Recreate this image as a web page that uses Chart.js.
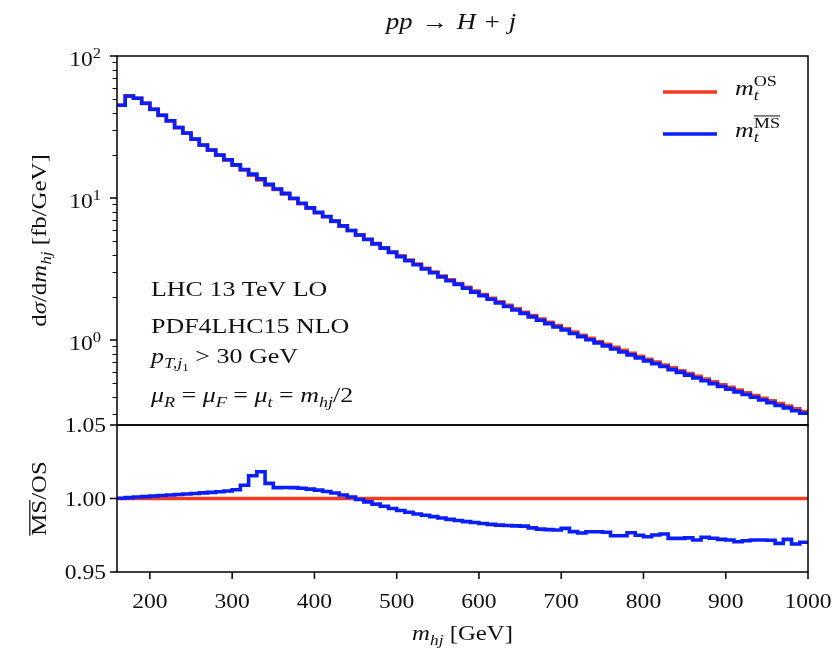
<!DOCTYPE html>
<html>
<head>
<meta charset="utf-8">
<title>pp → H + j</title>
<script src="https://cdn.jsdelivr.net/npm/chart.js@4.4.1/dist/chart.umd.min.js"></script>
<style>
  html, body { margin: 0; padding: 0; background: #fff; }
  canvas { display: block; }
</style>
</head>
<body>
<canvas id="mhj" width="837" height="653"></canvas>
<script>
// ── data (10 GeV bins from 160 to 1000 GeV) ──
const binEdges = [
    160, 170, 180, 190, 200, 210, 220, 230, 240, 250, 260, 270, 280, 290, 300, 310, 320,
    330, 340, 350, 360, 370, 380, 390, 400, 410, 420, 430, 440, 450, 460, 470, 480, 490,
    500, 510, 520, 530, 540, 550, 560, 570, 580, 590, 600, 610, 620, 630, 640, 650, 660,
    670, 680, 690, 700, 710, 720, 730, 740, 750, 760, 770, 780, 790, 800, 810, 820, 830,
    840, 850, 860, 870, 880, 890, 900, 910, 920, 930, 940, 950, 960, 970, 980, 990, 1000
];

// dσ/dm_hj [fb/GeV] with on-shell top mass
const osValues = [
    45.0, 52.3, 50.4, 46.4, 42.1, 38.2, 34.9, 31.3, 28.6, 25.9,
    23.5, 21.7, 20.0, 18.5, 17.0, 15.75, 14.5, 13.4, 12.35, 11.5,
    10.7, 9.89, 9.12, 8.46, 7.88, 7.38, 6.85, 6.35, 5.90, 5.49,
    5.12, 4.77, 4.46, 4.17, 3.90, 3.65, 3.42, 3.20, 3.01, 2.82,
    2.65, 2.50, 2.35, 2.21, 2.09, 1.97, 1.86, 1.755, 1.658, 1.570,
    1.485, 1.406, 1.332, 1.263, 1.199, 1.138, 1.081, 1.028, 0.977, 0.931,
    0.887, 0.845, 0.805, 0.768, 0.732, 0.699, 0.667, 0.636, 0.608, 0.581,
    0.555, 0.530, 0.507, 0.484, 0.464, 0.444, 0.425, 0.407, 0.389, 0.373,
    0.357, 0.342, 0.328, 0.314
];

// MSbar / OS ratio per bin (lower panel)
const ratioMS = [
    1.0002, 1.0006, 1.0010, 1.0013, 1.0017, 1.0020, 1.0024, 1.0027, 1.0031, 1.0034,
    1.0038, 1.0042, 1.0046, 1.0051, 1.0060, 1.0090, 1.0155, 1.0182, 1.0103, 1.0074,
    1.0075, 1.0074, 1.0070, 1.0064, 1.0057, 1.0048, 1.0037, 1.0024, 1.0010, 0.9993,
    0.9977, 0.9962, 0.9947, 0.9932, 0.9918, 0.9906, 0.9895, 0.9886, 0.9877, 0.9867,
    0.9858, 0.9850, 0.9843, 0.9837, 0.9830, 0.9824, 0.9819, 0.9816, 0.9814, 0.9812,
    0.9800, 0.9792, 0.9788, 0.9786, 0.9797, 0.9775, 0.9765, 0.9774, 0.9774, 0.9770,
    0.9747, 0.9747, 0.9767, 0.9750, 0.9740, 0.9752, 0.9758, 0.9729, 0.9729, 0.9732,
    0.9718, 0.9736, 0.9730, 0.9722, 0.9718, 0.9706, 0.9713, 0.9718, 0.9718, 0.9716,
    0.9695, 0.9722, 0.9690, 0.9702
];
const ratioOS = [1, 1];

// axis ranges and ticks
const xRange = [160, 1000];
const xTicks = [200, 300, 400, 500, 600, 700, 800, 900, 1000];
const logRange = [0.252, 100];
const logMajor = [1, 10, 100];
const logMajorExp = ['0', '1', '2'];
const logMinor = [0.3, 0.4, 0.5, 0.6, 0.7, 0.8, 0.9, 2, 3, 4, 5, 6, 7, 8, 9, 20, 30, 40, 50, 60, 70, 80, 90];
const ratioRange = [0.95, 1.05];
const ratioTicks = [0.95, 1.00, 1.05];
const ratioTickLabels = ['0.95', '1.00', '1.05'];

const RED = '#f03c24';
const BLUE = '#0a1efa';
const SERIF = '"Liberation Serif", "DejaVu Serif", serif';
const SX = 1.18; // widen Times-like glyphs towards Computer Modern proportions
const LW = 3.6;

// ── histogram helpers ──
function stepPoints(vals) {
    const pts = vals.map((v, i) => ({ x: binEdges[i], y: v }));
    pts.push({ x: binEdges[vals.length], y: vals[vals.length - 1] });
    return pts;
}
const msValues = osValues.map((v, i) => v * ratioMS[i]);

// ── tiny math-text renderer ──
const R = (t, o = {}) => ({ t, it: false, ...o });
const I = (t, o = {}) => ({ t, it: true, ...o });
const SUB = { sc: 0.7, dy: 0.22 };
const SUP = { sc: 0.7, dy: -0.42 };

function fontFor(p, size) {
    return (p.it ? 'italic ' : '') + (size * (p.sc || 1)).toFixed(1) + 'px ' + SERIF;
}
function mathWidth(ctx, parts, size) {
    let w = 0, pending = 0;
    for (const p of parts) {
        ctx.font = fontFor(p, size);
        const pw = ctx.measureText(p.t).width * SX;
        if (p.stay) pending = pw; else { w += Math.max(pw, pending); pending = 0; }
    }
    return w;
}
function drawMath(ctx, parts, x, y, size, align = 'left') {
    const w = mathWidth(ctx, parts, size);
    let cx = align === 'center' ? x - w / 2 : align === 'right' ? x - w : x;
    let pending = 0;
    ctx.textAlign = 'left';
    ctx.textBaseline = 'alphabetic';
    for (const p of parts) {
        ctx.font = fontFor(p, size);
        const pw = ctx.measureText(p.t).width * SX;
        const py = y + (p.dy || 0) * size;
        ctx.save();
        ctx.translate(cx, py);
        ctx.scale(SX, 1);
        ctx.fillText(p.t, 0, 0);
        ctx.restore();
        if (p.ol) {
            const s = size * (p.sc || 1);
            ctx.fillRect(cx, py - s * 0.8, pw, Math.max(1, s * 0.06));
        }
        if (p.stay) pending = pw; else { cx += Math.max(pw, pending); pending = 0; }
    }
}
function drawMathUp(ctx, parts, x, y, size) {
    ctx.save();
    ctx.translate(x, y);
    ctx.rotate(-Math.PI / 2);
    drawMath(ctx, parts, 0, 0, size, 'center');
    ctx.restore();
}

// ── frames, ticks, labels and annotations ──
const paperPlugin = {
    id: 'paperAxes',
    afterDraw(chart) {
        const { ctx, chartArea: a, scales: { x, y, y2 } } = chart;
        ctx.save();
        ctx.strokeStyle = '#000';
        ctx.fillStyle = '#111';

        // frames
        ctx.lineWidth = 1.5;
        ctx.strokeRect(a.left, y.top, a.right - a.left, y.bottom - y.top);
        ctx.strokeRect(a.left, y2.top, a.right - a.left, y2.bottom - y2.top);

        // major ticks
        ctx.beginPath();
        xTicks.forEach(v => {
            const px = x.getPixelForValue(v);
            ctx.moveTo(px, y2.bottom); ctx.lineTo(px, y2.bottom + 7);
        });
        logMajor.forEach(v => {
            const py = y.getPixelForValue(v);
            ctx.moveTo(a.left - 7, py); ctx.lineTo(a.left, py);
        });
        ratioTicks.forEach(v => {
            const py = y2.getPixelForValue(v);
            ctx.moveTo(a.left - 7, py); ctx.lineTo(a.left, py);
        });
        ctx.stroke();

        // minor log ticks
        ctx.lineWidth = 1;
        ctx.beginPath();
        logMinor.forEach(v => {
            const py = Math.round(y.getPixelForValue(v)) + 0.5;
            ctx.moveTo(a.left - 4.5, py); ctx.lineTo(a.left, py);
        });
        ctx.stroke();

        // tick labels
        xTicks.forEach(v => drawMath(ctx, [R(String(v))], x.getPixelForValue(v), y2.bottom + 36, 20, 'center'));
        logMajor.forEach((v, i) => drawMath(ctx, [R('10'), R(logMajorExp[i], SUP)], 101, y.getPixelForValue(v) + 10, 20, 'right'));
        ratioTicks.forEach((v, i) => drawMath(ctx, [R(ratioTickLabels[i])], 106, y2.getPixelForValue(v) + 7, 20, 'right'));

        // title and axis titles
        drawMath(ctx, [I('pp'), R('\u2004→\u2004'), I('H'), R('\u2004+\u2004'), I('j')], 451, 29, 22.5, 'center');
        drawMath(ctx, [I('m'), I('hj', SUB), R(' [GeV]')], (a.left + a.right) / 2, 640, 21, 'center');
        drawMathUp(ctx, [R('d'), I('σ'), R('/d'), I('m'), I('hj', SUB), R(' [fb/GeV]')], 46, (y.top + y.bottom) / 2, 21);
        drawMathUp(ctx, [R('MS', { ol: true }), R('/OS')], 46, (y2.top + y2.bottom) / 2, 21);

        // process annotations
        drawMath(ctx, [R('LHC 13 TeV LO')], 151, 296, 22);
        drawMath(ctx, [R('PDF4LHC15 NLO')], 151, 333, 22);
        drawMath(ctx, [I('p'), I('T,j', SUB), R('1', { sc: 0.5, dy: 0.38 }), R(' > 30 GeV')], 151, 363, 22);
        drawMath(ctx, [I('μ'), I('R', SUB), R(' = '), I('μ'), I('F', SUB), R(' = '), I('μ'), I('t', SUB),
            R(' = '), I('m'), I('hj', SUB), R('/2')], 151, 402, 22);

        // legend
        ctx.lineWidth = LW;
        [[RED, 92, [I('m'), I('t', { ...SUB, stay: true }), R('OS', SUP)]],
         [BLUE, 134, [I('m'), I('t', { ...SUB, stay: true }), R('MS', { ...SUP, ol: true })]]
        ].forEach(([col, ly, parts]) => {
            ctx.strokeStyle = col;
            ctx.beginPath(); ctx.moveTo(663, ly); ctx.lineTo(717, ly); ctx.stroke();
            drawMath(ctx, parts, 735, ly + 3, 22);
        });
        ctx.restore();
    }
};

const hidden = {
    ticks: { display: false },
    grid: { display: false, drawTicks: false },
    border: { display: false }
};

new Chart(document.getElementById('mhj'), {
    type: 'line',
    data: {
        datasets: [
            { data: stepPoints(msValues), yAxisID: 'y', borderColor: BLUE, order: 0 },
            { data: stepPoints(osValues), yAxisID: 'y', borderColor: RED, order: 1 },
            { data: stepPoints(ratioMS), yAxisID: 'y2', borderColor: BLUE, order: 2 },
            { data: [{ x: xRange[0], y: ratioOS[0] }, { x: xRange[1], y: ratioOS[1] }], yAxisID: 'y2', borderColor: RED, order: 3 }
        ].map(d => ({ ...d, borderWidth: LW, stepped: 'before', pointRadius: 0, fill: false, xAxisID: 'x' }))
    },
    options: {
        responsive: false,
        devicePixelRatio: 1,
        animation: false,
        layout: { padding: { left: 117, top: 56, right: 29, bottom: 81 } },
        plugins: { legend: { display: false }, tooltip: { enabled: false } },
        scales: {
            x: { type: 'linear', min: xRange[0], max: xRange[1], ...hidden, afterFit: s => { s.height = 0; } },
            y: {
                type: 'logarithmic', min: logRange[0], max: logRange[1], position: 'left',
                stack: 'panels', stackWeight: 369, weight: 2, ...hidden, afterFit: s => { s.width = 0; }
            },
            y2: {
                type: 'linear', min: ratioRange[0], max: ratioRange[1], position: 'left',
                stack: 'panels', stackWeight: 147, weight: 1, ...hidden, afterFit: s => { s.width = 0; }
            }
        }
    },
    plugins: [paperPlugin]
});
</script>
</body>
</html>
